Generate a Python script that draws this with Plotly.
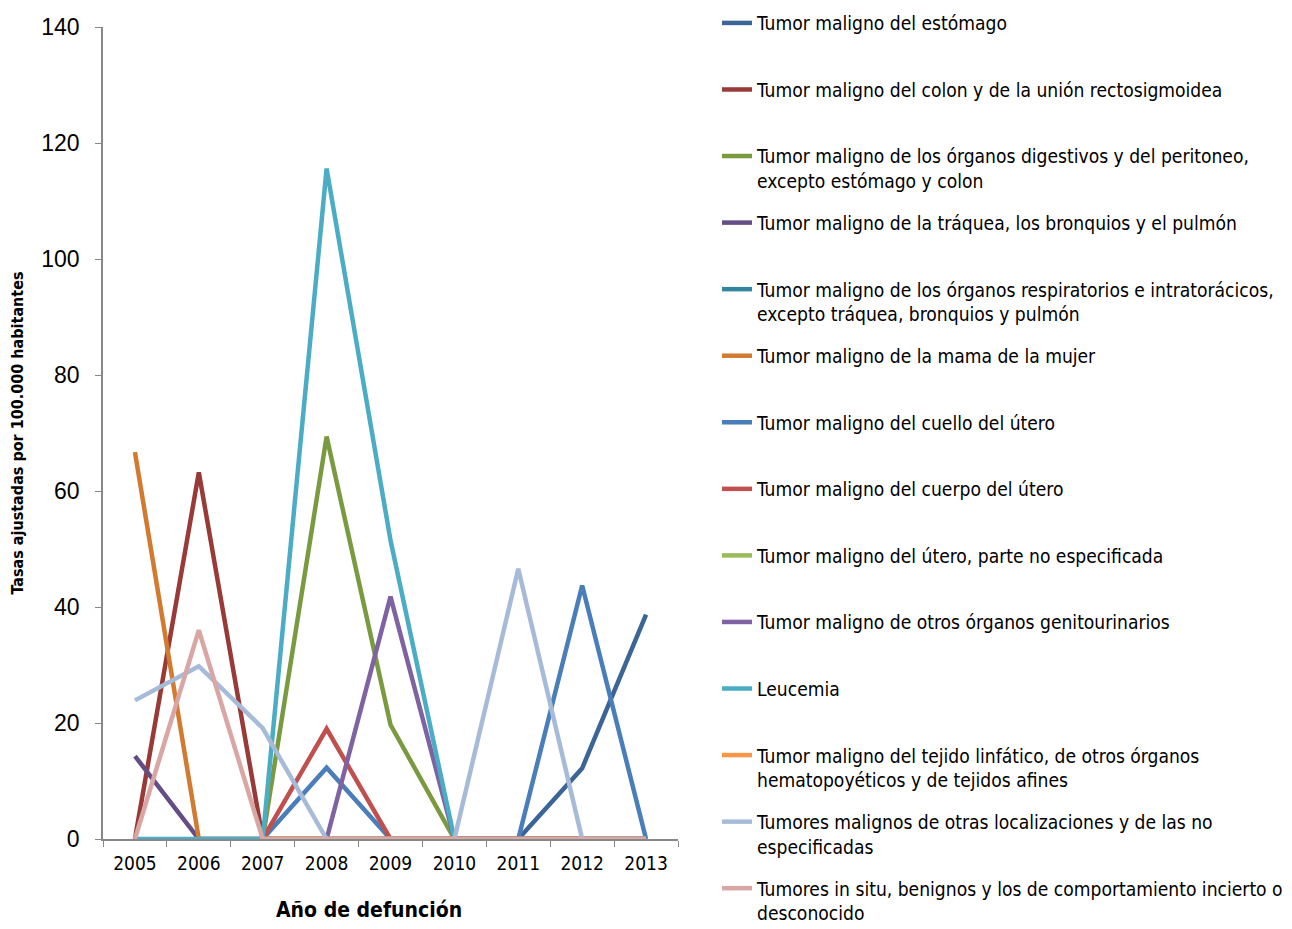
import plotly.graph_objects as go

years = ["2005", "2006", "2007", "2008", "2009", "2010", "2011", "2012", "2013"]

names = [
    "Tumor maligno del estómago",
    "Tumor maligno del colon y de la unión rectosigmoidea",
    "Tumor maligno de los órganos digestivos y del peritoneo,<br>excepto estómago y colon",
    "Tumor maligno de la tráquea, los bronquios y el pulmón",
    "Tumor maligno de los órganos respiratorios e intratorácicos,<br>excepto tráquea, bronquios y pulmón",
    "Tumor maligno de la mama de la mujer",
    "Tumor maligno del cuello del útero",
    "Tumor maligno del cuerpo del útero",
    "Tumor maligno del útero, parte no especificada",
    "Tumor maligno de otros órganos genitourinarios",
    "Leucemia",
    "Tumor maligno del tejido linfático, de otros órganos<br>hematopoyéticos y de tejidos afines",
    "Tumores malignos de otras localizaciones y de las no<br>especificadas",
    "Tumores in situ, benignos y los de comportamiento incierto o<br>desconocido",
]

estomago = [None, None, 0, 0, 0, 0, 0, 12.2, 38.7]
colon = [0, 63.2, 0, 0, 0, 0, 0, 0, 0]
digestivos = [None, None, 0, 69.4, 19.7, 0, 0, 0, 0]
traquea = [14.3, 0, 0, 0, 0, 0, 0, 0, 0]
respiratorios = [None, None, 0, 0, 0, 0, 0, 0, 0]
mama = [66.7, 0, 0, 0, 0, 0, 0, 0, 0]
cuello = [None, None, 0, 12.3, 0, 0, 0, 43.7, 0]
cuerpo = [None, None, 0, 19.0, 0, 0, 0, 0, 0]
utero_ne = [None, None, 0, 0, 0, 0, 0, 0, 0]
genitourinarios = [None, None, None, 0, 41.8, 0, 0, 0, 0]
leucemia = [0, 0, 0, 115.6, 51.5, 0, 0, 0, 0]
linfatico = [None, None, 0, 0, 0, 0, 0, 0, 0]
otras = [23.9, 29.8, 19.1, 0, 0, 0, 46.6, 0, 0]
in_situ = [0, 36.0, 0, 0, 0, 0, 0, 0, 0]

series = [estomago, colon, digestivos, traquea, respiratorios, mama, cuello,
          cuerpo, utero_ne, genitourinarios, leucemia, linfatico, otras, in_situ]

colors = ["#3B6497", "#983A37", "#7A9A40", "#644D85", "#31859C", "#D17A30",
          "#4A7EBB", "#C0504D", "#9BBB59", "#7E62A1", "#4BACC6", "#F79646",
          "#A7BBD9", "#D9A6A4"]

FONT = "Liberation Sans Narrow, Arial Narrow, DejaVu Sans Condensed, sans-serif"

# page has an 8px body margin; figure coordinates = page coordinates - 8
W, H = 1284, 921
L, T, PW, PH = 95, 19, 575, 812

fig = go.Figure()
for i, (nm, vals, col) in enumerate(zip(names, series, colors)):
    label = nm if "<br>" in nm else nm + "<br>\u00a0"
    fig.add_trace(go.Scatter(
        x=years, y=vals, mode="lines", name=label,
        line=dict(color=col, width=4.5),
        legendgroup=f"g{i}", connectgaps=False,
    ))

fig.update_layout(
    width=W, height=H,
    margin=dict(l=L, r=W - L - PW, t=T, b=H - T - PH),
    paper_bgcolor="white", plot_bgcolor="white",
    font=dict(family=FONT, color="black", size=20),
    showlegend=True,
    legend=dict(
        x=709 / W, xref="container", xanchor="left",
        y=1 + (T + 4) / PH, yref="paper", yanchor="top",
        valign="top", tracegroupgap=13.9, maxheight=1000,
        font=dict(family=FONT, size=19.1, color="black"),
        bgcolor="rgba(0,0,0,0)",
    ),
    xaxis=dict(
        type="category", range=[-0.5, 8.5], automargin=False,
        showline=True, linecolor="#888888", linewidth=1.5,
        ticks="outside", tickson="boundaries", ticklen=6, tickcolor="#888888",
        ticklabelstandoff=6,
        showgrid=False, zeroline=False,
        tickfont=dict(family=FONT, size=19, color="black"),
    ),
    yaxis=dict(
        range=[0, 140], dtick=20, tick0=0, automargin=False,
        showline=True, linecolor="#888888", linewidth=1.5,
        ticks="outside", ticklen=6, tickcolor="#888888", ticklabelstandoff=11,
        showgrid=False, zeroline=False,
        tickfont=dict(family="Liberation Sans, Arial, sans-serif", size=23, color="black"),
        title=dict(text="<b>Tasas ajustadas por 100.000 habitantes</b>",
                   font=dict(family=FONT, size=16), standoff=19),
    ),
    annotations=[dict(
        text="<b>Año de defunción</b>", xref="paper", yref="paper",
        x=(369 - 103) / PW, y=-(910 - 839) / PH, xanchor="center", yanchor="middle",
        showarrow=False, font=dict(family=FONT, size=21, color="black"),
    )],
)

fig.write_html("out.html")
